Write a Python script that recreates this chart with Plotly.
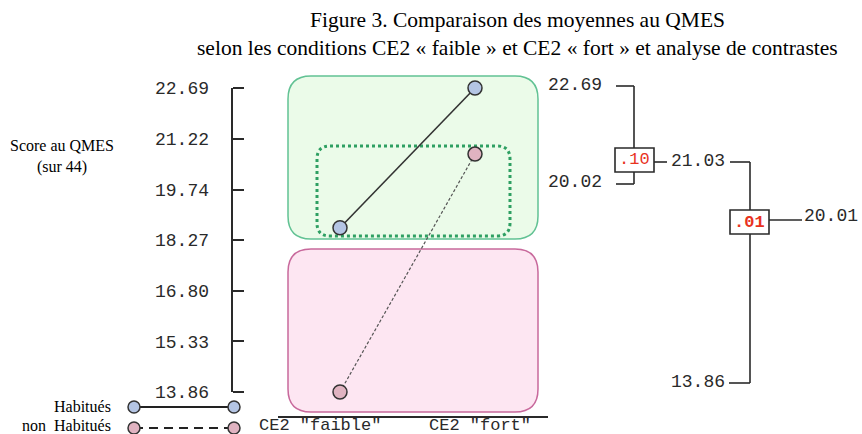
import plotly.graph_objects as go

# data
categories = ['CE2 "faible"', 'CE2 "fort"']
habitues = [18.63, 22.69]
non_habitues = [13.86, 20.77]
y_ticks = [22.69, 21.22, 19.74, 18.27, 16.80, 15.33, 13.86]

# contrast tree: (left mean a, left mean b, p) then (combined, other, p, bottom)
contrast1 = ["22.69", "20.02", ".10"]
contrast2 = ["21.03", "20.01", ".01", "13.86"]

W, H = 862, 434
MONO = "Liberation Mono"
SERIF = "Liberation Serif"
INK = "#2a2a2a"


def px(x):
    return x / W


def py(y):
    return 1 - y / H


def rrect(x0, y0, x1, y1, r):
    # rounded rectangle in pixel coords -> svg path in paper coords
    return (f"M {px(x0 + r)},{py(y0)} L {px(x1 - r)},{py(y0)} "
            f"Q {px(x1)},{py(y0)} {px(x1)},{py(y0 + r)} L {px(x1)},{py(y1 - r)} "
            f"Q {px(x1)},{py(y1)} {px(x1 - r)},{py(y1)} L {px(x0 + r)},{py(y1)} "
            f"Q {px(x0)},{py(y1)} {px(x0)},{py(y1 - r)} L {px(x0)},{py(y0 + r)} "
            f"Q {px(x0)},{py(y0)} {px(x0 + r)},{py(y0)} Z")


def seg(x0, y0, x1, y1, color=INK, width=1.6, dash="solid"):
    return dict(type="line", xref="paper", yref="paper",
                x0=px(x0), y0=py(y0), x1=px(x1), y1=py(y1),
                line=dict(color=color, width=width, dash=dash))


def text(x, y, s, size=18, font=MONO, color=INK, xanchor="center", bold=False):
    if bold:
        s = "<b>" + s + "</b>"
    return dict(xref="paper", yref="paper", x=px(x), y=py(y), text=s,
                showarrow=False, xanchor=xanchor, yanchor="middle",
                font=dict(family=font, size=size, color=color))


fig = go.Figure()

fig.add_trace(go.Scatter(
    x=categories, y=habitues, mode="lines+markers", cliponaxis=False,
    line=dict(color="#333333", width=1.6),
    marker=dict(size=14, color="#b4c5e4", line=dict(color="#333333", width=1.5)),
    showlegend=False))
fig.add_trace(go.Scatter(
    x=categories, y=non_habitues, mode="lines+markers", cliponaxis=False,
    line=dict(color="#555555", width=1.2, dash="3px,2px"),
    marker=dict(size=14, color="#e0b3c1", line=dict(color="#333333", width=1.5)),
    showlegend=False))

shapes = []
# group boxes
shapes.append(dict(type="path", xref="paper", yref="paper", layer="below",
                   path=rrect(288, 76, 538, 239, 23),
                   fillcolor="#ebfbe9", line=dict(color="#62c294", width=1.5)))
shapes.append(dict(type="path", xref="paper", yref="paper", layer="below",
                   path=rrect(288, 249, 538, 412, 23),
                   fillcolor="#fde6f2", line=dict(color="#c8699c", width=1.5)))
shapes.append(dict(type="path", xref="paper", yref="paper", layer="below",
                   path=rrect(317, 146, 510, 236, 13),
                   fillcolor="rgba(0,0,0,0)",
                   line=dict(color="#2e9f62", width=3, dash="dot")))

# y axis line
shapes.append(dict(type="line", xref="paper", yref="y",
                   x0=px(232), x1=px(232), y0=min(y_ticks), y1=max(y_ticks),
                   line=dict(color=INK, width=2)))
# x axis line
shapes.append(seg(278, 417, 548, 417, width=1.8))

# legend
shapes.append(seg(134, 407, 234, 407, color="#222222", width=2))
shapes.append(seg(134, 428, 234, 428, color="#222222", width=2, dash="9px,6px"))
for cx, cy, col in [(134, 407, "#b4c5e4"), (234, 407, "#b4c5e4"),
                    (134, 428, "#e0b3c1"), (234, 428, "#e0b3c1")]:
    shapes.append(dict(type="circle", xref="paper", yref="paper",
                       x0=px(cx - 6), x1=px(cx + 6), y0=py(cy - 6), y1=py(cy + 6),
                       fillcolor=col, line=dict(color="#333333", width=1.5)))

# contrast tree
shapes += [
    seg(616, 86, 634, 86), seg(634, 86, 634, 148),
    seg(616, 184, 634, 184), seg(634, 184, 634, 172),
    seg(654, 162, 667, 162),
    seg(730, 162, 750, 162), seg(750, 162, 750, 210),
    seg(769, 220, 802, 220),
    seg(750, 234, 750, 383), seg(729, 383, 750, 383),
]
for x0, y0, x1, y1 in [(615, 148, 654, 172), (730, 210, 769, 234)]:
    shapes.append(dict(type="rect", xref="paper", yref="paper",
                       x0=px(x0), x1=px(x1), y0=py(y0), y1=py(y1),
                       fillcolor="white", line=dict(color=INK, width=1.6)))

annotations = [
    text(517, 20, "Figure 3. Comparaison des moyennes au QMES", size=21.5, font=SERIF, color="black"),
    text(517, 48, "selon les conditions CE2 « faible » et CE2 « fort » et analyse de contrastes",
         size=21.5, font=SERIF, color="black"),
    text(62, 157, "Score au QMES<br>(sur 44)", size=16, font=SERIF, color="black"),
    text(113, 406, "Habitués", size=16, font=SERIF, color="black", xanchor="right"),
    text(113, 425, "non  Habitués", size=16, font=SERIF, color="black", xanchor="right"),
    text(604, 85, contrast1[0], xanchor="right"),
    text(604, 182, contrast1[1], xanchor="right"),
    text(634.5, 160, contrast1[2], size=17, color="#e8321e"),
    text(669, 161, contrast2[0], xanchor="left"),
    text(860, 216, contrast2[1], xanchor="right"),
    text(749.5, 222, contrast2[2], size=17, color="#e8321e", bold=True),
    text(669, 382, contrast2[3], xanchor="left"),
]
# category labels under the x axis line
for cat, shift in zip(categories, [-20, 5]):
    a = dict(xref="x", yref="paper", x=cat, y=py(425.5), text=cat, showarrow=False,
             xshift=shift, yanchor="middle", font=dict(family=MONO, size=17, color=INK))
    annotations.append(a)

# pixel mapping: first category at 340px, 135px per step; 22.69 at 88px, 13.86 at 392px
pps = (392 - 88) / (max(y_ticks) - min(y_ticks))
y_top = max(y_ticks) + 88 / pps
y_bot = min(y_ticks) - (H - 392) / pps

fig.update_layout(
    width=W, height=H, autosize=False,
    margin=dict(l=0, r=0, t=0, b=0),
    paper_bgcolor="white", plot_bgcolor="rgba(0,0,0,0)",
    xaxis=dict(type="category", categoryarray=categories, domain=[0, 1],
               range=[-340 / 135, (W - 340) / 135], visible=False),
    yaxis=dict(range=[y_bot, y_top], domain=[0, 1], anchor="free", position=px(232),
               tickvals=y_ticks, ticktext=[f"{v:.2f}" for v in y_ticks],
               ticks="inside", ticklen=11, tickwidth=2, tickcolor=INK,
               showline=False, showgrid=False, zeroline=False,
               ticklabelstandoff=23,
               tickfont=dict(family=MONO, size=18, color=INK)),
    shapes=shapes,
    annotations=annotations,
)

fig.write_html("out.html", config={"displayModeBar": False},
               post_script="document.body.style.margin='0';")
